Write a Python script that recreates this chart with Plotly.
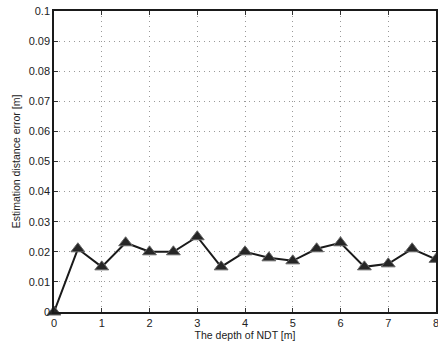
import plotly.graph_objects as go

depth = [0, 0.5, 1, 1.5, 2, 2.5, 3, 3.5, 4, 4.5, 5, 5.5, 6, 6.5, 7, 7.5, 8]
error = [0.0, 0.021, 0.015, 0.023, 0.020, 0.020, 0.025, 0.015, 0.020, 0.018, 0.017, 0.021, 0.023, 0.015, 0.016, 0.021, 0.0175]

x_ticks = [0, 1, 2, 3, 4, 5, 6, 7, 8]
x_ticktext = ["0", "1", "2", "3", "4", "5", "6", "7", "8"]
y_ticks = [0, 0.01, 0.02, 0.03, 0.04, 0.05, 0.06, 0.07, 0.08, 0.09, 0.1]
y_ticktext = ["0", "0.01", "0.02", "0.03", "0.04", "0.05", "0.06", "0.07", "0.08", "0.09", "0.1"]

fig = go.Figure()
fig.add_trace(go.Scatter(
    x=depth, y=error, mode="lines+markers",
    line=dict(color="#1a1a1a", width=2),
    marker=dict(symbol="triangle-up", size=12, color="#262626",
                line=dict(color="#666666", width=1)),
    cliponaxis=False, showlegend=False,
))

font = "Liberation Sans, Arial, sans-serif"
axis_common = dict(
    showline=True, linecolor="#1a1a1a", linewidth=1.5, mirror="ticks",
    ticks="inside", ticklen=4, tickcolor="#333333",
    showgrid=True, gridcolor="#999999", griddash="1px,4px", gridwidth=1,
    zeroline=False, tickfont=dict(family=font, size=11, color="#222222"),
    automargin=True, ticklabeloverflow="allow",
)

fig.update_layout(
    width=438, height=347,
    margin=dict(l=54, r=2, t=11, b=35, autoexpand=False),
    paper_bgcolor="white", plot_bgcolor="white",
    xaxis=dict(range=[0, 8], tickvals=x_ticks, ticktext=x_ticktext,
               title=dict(text="The depth of NDT [m]", font=dict(family=font, size=10.5, color="#222222"), standoff=3),
               **axis_common),
    yaxis=dict(range=[0, 0.1], tickvals=y_ticks, ticktext=y_ticktext,
               title=dict(text="Estimation distance error [m]", font=dict(family=font, size=10.5, color="#222222"), standoff=6),
               **axis_common),
)

fig.write_html("out.html", config={"displayModeBar": False},
               post_script="document.body.style.margin='0';document.body.style.overflow='hidden';")
